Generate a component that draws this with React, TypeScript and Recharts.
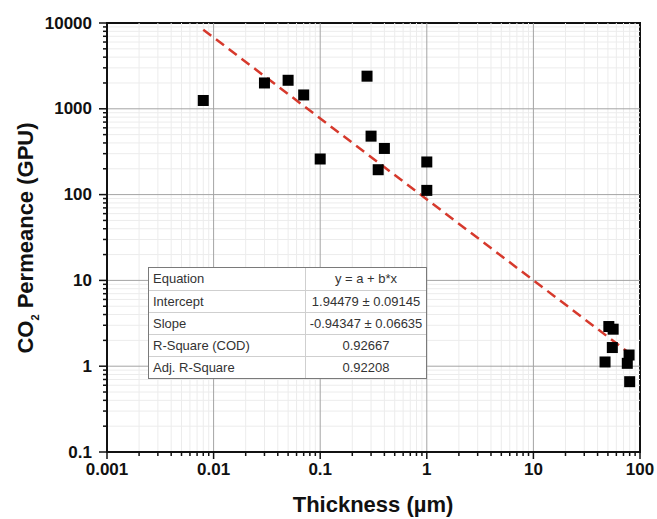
import { ScatterChart, Scatter, XAxis, YAxis, ReferenceLine, ReferenceArea } from 'recharts'

const X_MAJOR = [0.001, 0.01, 0.1, 1, 10, 100]
const X_LABELS = ['0.001', '0.01', '0.1', '1', '10', '100']
const Y_MAJOR = [0.1, 1, 10, 100, 1000, 10000]
const Y_LABELS = ['0.1', '1', '10', '100', '1000', '10000']
const MINOR_STEPS = [2, 3, 4, 5, 6, 7, 8, 9]

// measured samples
const thickness = [0.008, 0.03, 0.05, 0.07, 0.1, 0.275, 0.3, 0.35, 0.4, 1, 1, 51, 56, 55, 47, 79, 76, 80]
const permeance = [1250, 2000, 2150, 1450, 260, 2400, 480, 195, 345, 240, 112, 2.9, 2.7, 1.65, 1.12, 1.35, 1.08, 0.66]

// linear fit of log values, drawn across the data range
const fitThickness = [0.008, 80]
const fitPermeance = [8370, 1.41]

const fitRows = ['Equation', 'Intercept', 'Slope', 'R-Square (COD)', 'Adj. R-Square']
const fitValues = ['y = a + b*x', '1.94479 ± 0.09145', '-0.94347 ± 0.06635', '0.92667', '0.92208']

const minorOf = (major: number[]) =>
  major.slice(0, -1).flatMap(d => MINOR_STEPS.map(k => +(d * k).toPrecision(3)))

const X_MINOR = minorOf(X_MAJOR)
const Y_MINOR = minorOf(Y_MAJOR)
const X_TICKS = [...X_MAJOR, ...X_MINOR].sort((a, b) => a - b)
const Y_TICKS = [...Y_MAJOR, ...Y_MINOR].sort((a, b) => a - b)

const points = thickness.map((t, i) => ({ x: t, y: permeance[i] }))
const fitLine = fitThickness.map((t, i) => ({ x: t, y: fitPermeance[i] }))

const FONT = 'Arial, "Liberation Sans", Helvetica, sans-serif'
const AXIS = '#111'

function majorIndex(list: number[], v: number) {
  return list.findIndex(m => Math.abs(Math.log10(m) - Math.log10(v)) < 1e-6)
}

const BottomTick = (props: any) => {
  const { x, y, payload } = props
  const i = majorIndex(X_MAJOR, payload.value)
  return (
    <g>
      <line x1={x} x2={x} y1={y} y2={y + (i >= 0 ? 7 : 4)} stroke={AXIS} strokeWidth={1.5} />
      {i >= 0 && (
        <text x={x} y={y + 17} textAnchor="middle" dominantBaseline="central"
          fontFamily={FONT} fontWeight="bold" fontSize={17} fill="#111">{X_LABELS[i]}</text>
      )}
    </g>
  )
}

const TopTick = (props: any) => {
  const { x, y, payload } = props
  const i = majorIndex(X_MAJOR, payload.value)
  return <line x1={x} x2={x} y1={y} y2={y - (i >= 0 ? 7 : 4)} stroke={AXIS} strokeWidth={1.5} />
}

const LeftTick = (props: any) => {
  const { x, y, payload } = props
  const i = majorIndex(Y_MAJOR, payload.value)
  return (
    <g>
      <line x1={x} x2={x - (i >= 0 ? 8 : 4)} y1={y} y2={y} stroke={AXIS} strokeWidth={1.5} />
      {i >= 0 && (
        <text x={x - 15} y={y} textAnchor="end" dominantBaseline="central"
          fontFamily={FONT} fontWeight="bold" fontSize={17} fill="#111">{Y_LABELS[i]}</text>
      )}
    </g>
  )
}

const RightTick = (props: any) => {
  const { x, y, payload } = props
  const i = majorIndex(Y_MAJOR, payload.value)
  return <line x1={x} x2={x + (i >= 0 ? 7 : 4)} y1={y} y2={y} stroke={AXIS} strokeWidth={1.5} />
}

const SquareDot = (props: any) => {
  const { cx, cy } = props
  return <rect x={cx - 5.5} y={cy - 5.5} width={11} height={11} fill="#000" />
}

export default function App() {
  return (
    <div style={{ position: 'absolute', left: 0, top: 0, width: 657, height: 519, background: '#fff', fontFamily: FONT }}>
      <ScatterChart width={657} height={519} margin={{ top: 23, right: 17, left: 0, bottom: 0 }}>
        <XAxis xAxisId="b" dataKey="x" type="number" scale="log" domain={[0.001, 100]} allowDataOverflow
          ticks={X_TICKS} interval={0} tickSize={0} tickMargin={0} height={67}
          axisLine={{ stroke: AXIS, strokeWidth: 2 }} tick={<BottomTick />} />
        <XAxis xAxisId="t" orientation="top" dataKey="x" type="number" scale="log" domain={[0.001, 100]} allowDataOverflow
          ticks={X_TICKS} interval={0} tickSize={0} tickMargin={0} height={0}
          axisLine={false} tick={<TopTick />} />
        <YAxis yAxisId="l" dataKey="y" type="number" scale="log" domain={[0.1, 10000]} allowDataOverflow
          ticks={Y_TICKS} interval={0} tickSize={0} tickMargin={0} width={107}
          axisLine={{ stroke: AXIS, strokeWidth: 2 }} tick={<LeftTick />} />
        <YAxis yAxisId="r" orientation="right" dataKey="y" type="number" scale="log" domain={[0.1, 10000]} allowDataOverflow
          ticks={Y_TICKS} interval={0} tickSize={0} tickMargin={0} width={0}
          axisLine={false} tick={<RightTick />} />

        {X_MINOR.map(v => (
          <ReferenceLine key={'xm' + v} xAxisId="b" yAxisId="l" x={v} stroke="#ececec" strokeWidth={1} />
        ))}
        {Y_MINOR.map(v => (
          <ReferenceLine key={'ym' + v} xAxisId="b" yAxisId="l" y={v} stroke="#ececec" strokeWidth={1} />
        ))}
        {X_MAJOR.slice(1, -1).map(v => (
          <ReferenceLine key={'xM' + v} xAxisId="b" yAxisId="l" x={v} stroke="#a4a4a4" strokeWidth={1} />
        ))}
        {Y_MAJOR.slice(1, -1).map(v => (
          <ReferenceLine key={'yM' + v} xAxisId="b" yAxisId="l" y={v} stroke="#a4a4a4" strokeWidth={1} />
        ))}
        <ReferenceArea xAxisId="b" yAxisId="l" x1={0.001} x2={100} y1={0.1} y2={10000}
          fill="none" stroke={AXIS} strokeWidth={2} ifOverflow="visible" />

        <Scatter xAxisId="t" yAxisId="r" data={fitLine} isAnimationActive={false}
          line={{ stroke: '#d6392c', strokeWidth: 2.5, strokeDasharray: '10 6' }} lineType="joint"
          shape={() => null} />
        <Scatter xAxisId="b" yAxisId="l" data={points} isAnimationActive={false} shape={<SquareDot />} />
      </ScatterChart>

      <div style={{
        position: 'absolute', left: 148, top: 267, width: 279, background: '#fff',
        border: '1px solid #7a7a7a', boxSizing: 'border-box', fontSize: 13, color: '#333',
      }}>
        {fitRows.map((r, i) => (
          <div key={r} style={{
            display: 'flex', height: 22, lineHeight: '22px',
            borderTop: i ? '1px solid #cfcfcf' : 'none', boxSizing: 'border-box',
          }}>
            <div style={{ width: 157, paddingLeft: 4, borderRight: '1px solid #cfcfcf', boxSizing: 'border-box' }}>{r}</div>
            <div style={{ flex: 1, textAlign: 'center' }}>{fitValues[i]}</div>
          </div>
        ))}
      </div>

      <div style={{
        position: 'absolute', left: 373, top: 505, transform: 'translate(-50%, -50%)',
        fontSize: 22, fontWeight: 'bold', whiteSpace: 'nowrap', color: '#111',
      }}>Thickness (µm)</div>
      <div style={{
        position: 'absolute', left: 27, top: 238, transform: 'translate(-50%, -50%) rotate(-90deg)',
        fontSize: 22, fontWeight: 'bold', whiteSpace: 'nowrap', color: '#111',
      }}>CO<sub style={{ fontSize: 11 }}>2</sub> Permeance (GPU)</div>
    </div>
  )
}
